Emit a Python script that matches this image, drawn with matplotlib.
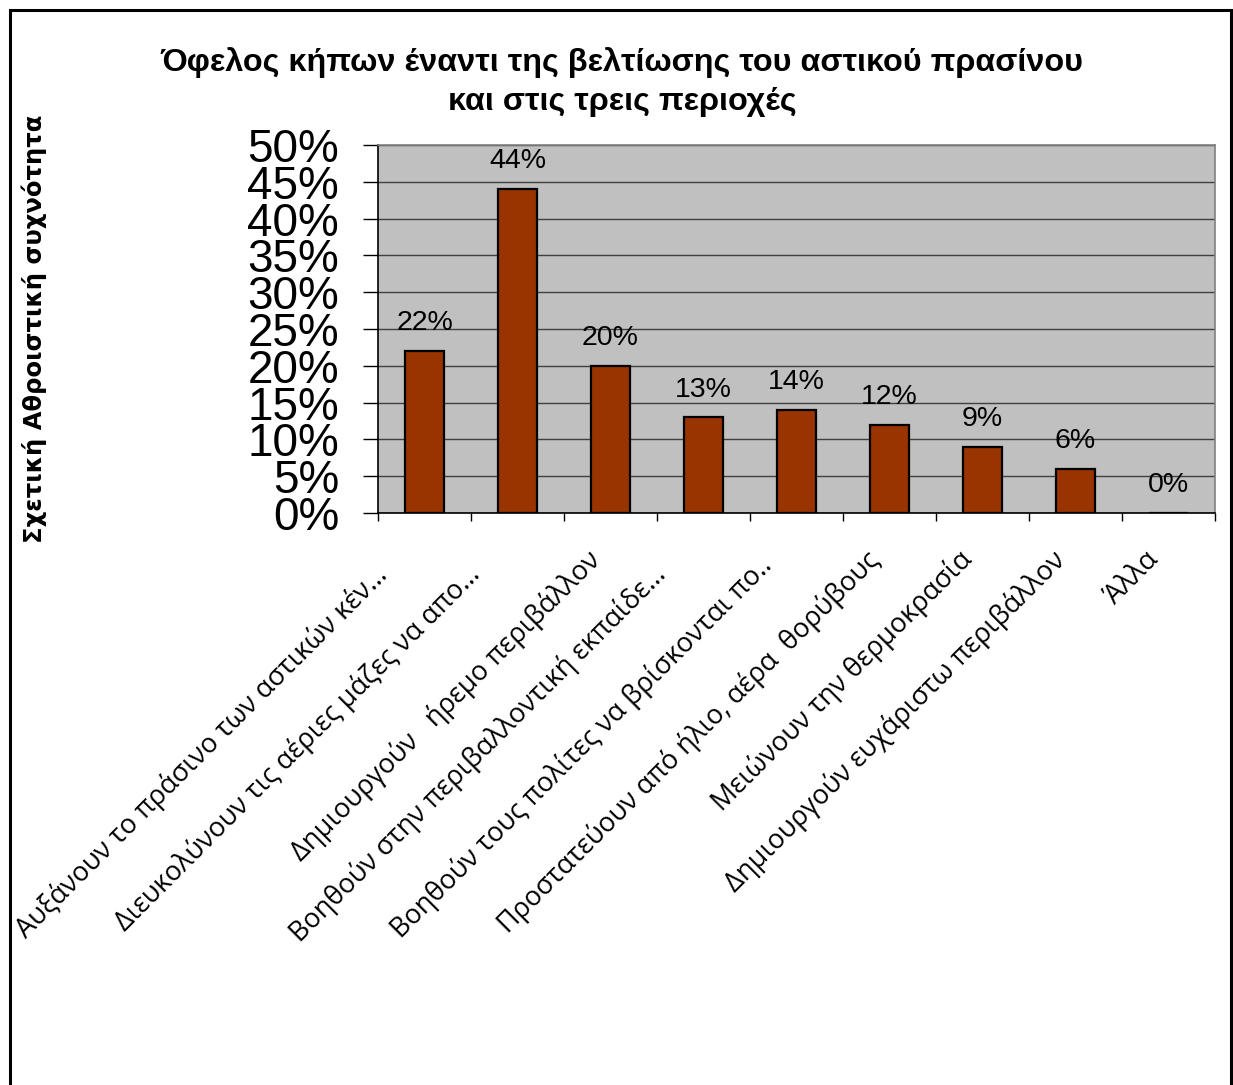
import matplotlib.pyplot as plt
import matplotlib.transforms as mtransforms
from matplotlib.patches import Rectangle
import numpy as np

categories = [
    "Αυξάνουν το πράσινο των αστικών κέν…",
    "Διευκολύνουν τις αέριες μάζες να απο…",
    "Δημιουργούν   ήρεμο περιβάλλον",
    "Βοηθούν στην περιβαλλοντική εκπαίδε…",
    "Βοηθούν τους πολίτες να βρίσκονται πο..",
    "Προστατεύουν από ήλιο, αέρα  θορύβους",
    "Μειώνουν την θερμοκρασία",
    "Δημιουργούν ευχάριστω περιβάλλον",
    "Άλλα",
]
values = [22, 44, 20, 13, 14, 12, 9, 6, 0]
yticks = [0, 5, 10, 15, 20, 25, 30, 35, 40, 45, 50]
ytick_labels = [f"{v}%" for v in yticks]

title = "Όφελος κήπων έναντι της βελτίωσης του αστικού πρασίνου\nκαι στις τρεις περιοχές"
ylabel = "Σχετική Αθροιστική συχνότητα"

W, H = 1233, 1085
fig = plt.figure(figsize=(W / 100, H / 100), dpi=100)
ax = fig.add_axes([378 / W, 1 - 513 / H, (1215 - 378) / W, (513 - 145) / H])

x = np.arange(len(categories))
ax.set_facecolor("#C0C0C0")
ax.set_xlim(-0.5, len(categories) - 0.5)
ax.set_ylim(0, 50)
ax.set_axisbelow(True)
ax.yaxis.grid(True, color="#404040", linewidth=1.0)

ax.bar(x, values, width=0.42, color="#993300", edgecolor="black", linewidth=1.6, zorder=3)

for xi, v in zip(x, values):
    ax.annotate(f"{v}%", (xi, v), xytext=(0, 20), textcoords="offset points",
                ha="center", va="center", fontsize=20.5, family="Liberation Sans", zorder=4)

# spines
for s in ["top", "right"]:
    ax.spines[s].set_color("#808080")
    ax.spines[s].set_linewidth(1.2)
for s in ["left", "bottom"]:
    ax.spines[s].set_color("black")
    ax.spines[s].set_linewidth(1.2)

ax.set_yticks(yticks)
ax.set_yticklabels(ytick_labels, fontsize=33, family="Liberation Sans")
ax.tick_params(axis="y", length=11, width=1, pad=17, color="black")

ax.set_xticks(x)
ax.set_xticks(np.arange(len(categories) + 1) - 0.5, minor=True)
ax.tick_params(axis="x", which="major", length=0, pad=0)
ax.tick_params(axis="x", which="minor", length=6, width=1, color="black")
ax.set_xticklabels(categories, rotation=45, ha="right", va="baseline",
                   rotation_mode="anchor", fontsize=19.5, family="Open Sans")
# excel-like placement of the rotated labels (pixels)
for lab in ax.get_xticklabels():
    t = lab.get_text()
    if t.endswith("…"):
        dx, dy = -36, 63
    elif t.endswith(".."):
        dx, dy = -23, 54
    else:
        dx, dy = -9, 48
    shift = mtransforms.ScaledTranslation(dx / 100, -dy / 100, fig.dpi_scale_trans)
    lab.set_transform(lab.get_transform() + shift)

fig.text(622 / W, 1 - 82 / H, title, ha="center", va="center", fontsize=23.3,
         fontweight="bold", family="Liberation Sans", linespacing=1.42)
fig.text(34 / W, 1 - 329 / H, ylabel, ha="center", va="center", rotation=90,
         fontsize=17.5, fontweight="bold", family="DejaVu Sans")

# outer chart border
fig.add_artist(Rectangle((9.5 / W, -0.05), (1230.5 - 9.5) / W, 1.05 - 9.5 / H,
                         transform=fig.transFigure, fill=False, ec="black", lw=2.2))

fig.savefig("out.png", dpi=100)
